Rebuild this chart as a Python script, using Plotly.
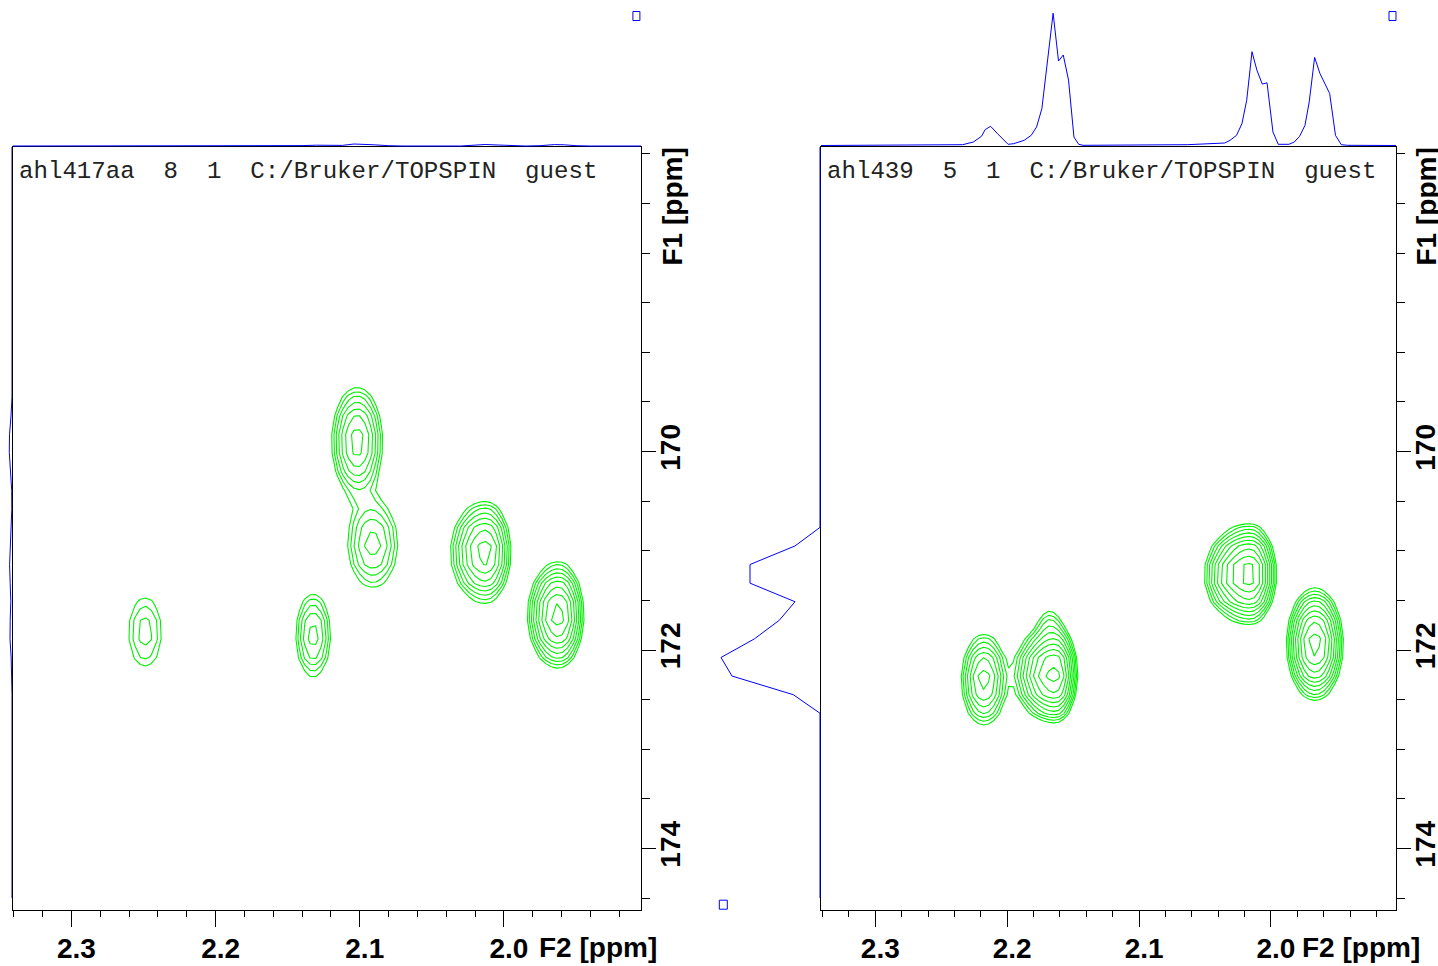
import numpy as np
import plotly.graph_objects as go

W, H = 1438, 966

# ---------------- axis extents / ticks ----------------
F2_LEFT_RANGE = [2.3409, 1.9049]
F2_RIGHT_RANGE = [2.3412, 1.9052]
F1_RANGE = [174.62, 166.93]

x_tick_vals = [2.3, 2.2, 2.1, 2.0]
x_tick_text = ["2.3", "2.2", "2.1", "2.0"]
x_minor_vals = [round(1.92 + 0.02 * i, 2) for i in range(22)]
y_tick_vals = [168, 170, 172, 174]
y_tick_text = ["", "170", "172", "174"]
y_minor_vals = [167.0 + 0.5 * i for i in range(16)]

titles = ["ahl417aa  8  1  C:/Bruker/TOPSPIN  guest",
          "ahl439  5  1  C:/Bruker/TOPSPIN  guest"]

# ---------------- 2D cross peaks ----------------
# left spectrum ahl417aa
L_f2 = [2.2489, 2.1323, 2.1018, 2.0910, 2.0129, 1.9623]
L_f1 = [171.82, 171.85, 169.90, 170.93, 171.013, 171.648]
L_wl = [0.0088, 0.0070, 0.0085, 0.0100, 0.0108, 0.0090]   # width, high-ppm side
L_wr = [0.0088, 0.0070, 0.0085, 0.0100, 0.0080, 0.0075]   # width, low-ppm side
L_wy = [0.272, 0.243, 0.265, 0.255, 0.231, 0.227]
L_amp = [2.32, 4.54, 8.91, 4.54, 12.47, 17.46]

# right spectrum ahl439
R_f2 = [2.2176, 2.1638, 2.1680, 2.0160, 2.0370, 1.9667]
R_f1 = [172.30, 172.24, 171.70, 171.235, 171.28, 171.94]
R_wl = [0.0083, 0.0126, 0.0060, 0.0135, 0.0060, 0.0086]
R_wr = [0.0083, 0.0069, 0.0060, 0.0081, 0.0060, 0.0086]
R_wy = [0.222, 0.199, 0.120, 0.203, 0.150, 0.227]
R_amp = [8.91, 24.4, 1.5, 24.4, 1.5, 24.4]

# ---------------- 1D projections ----------------
L_top_f2 = [2.3409, 2.150, 2.140, 2.130, 2.120, 2.112, 2.104, 2.098, 2.090, 2.080,
            2.070, 2.030, 2.022, 2.013, 2.004, 1.995, 1.985, 1.975, 1.965, 1.958,
            1.950, 1.940, 1.9049]
L_top_int = [0, 0, 0.4, 0.8, 0.3, 0.6, 2.0, 1.8, 1.2, 0.3,
             0, 0, 0.6, 1.5, 1.0, 0.2, 0, 0.3, 1.4, 1.2,
             0.3, 0, 0]

R_top_f2 = [2.3412, 2.2500, 2.2338, 2.2257, 2.2195, 2.2167, 2.2126, 2.2074, 2.1993,
            2.1952, 2.1871, 2.1818, 2.1777, 2.1737, 2.1696, 2.1652, 2.1611, 2.1575,
            2.1535, 2.1494, 2.1458, 2.1425, 2.0634, 2.0472, 2.0351, 2.0310, 2.0261,
            2.0220, 2.0184, 2.0144, 2.0107, 2.0066, 2.0030, 1.9985, 1.9945, 1.9864,
            1.9823, 1.9783, 1.9742, 1.9710, 1.9669, 1.9629, 1.9555, 1.9511, 1.9467,
            1.9418, 1.9052]
R_top_int = [0.5, 0.7, 1.3, 4.0, 9.7, 16.4, 19.7, 12.4, 1.7,
             2.3, 5.7, 10.7, 19.1, 37.5, 86.0, 132.8, 85.0, 91.0,
             65.9, 9.0, 1.7, 0.7, 1.3, 2.3, 3.0, 5.7, 10.7,
             22.4, 45.8, 94.3, 75.9, 61.9, 63.2, 14.0, 1.7, 1.7,
             4.0, 9.7, 20.7, 44.1, 88.6, 72.6, 52.5, 10.7, 1.3,
             0.7, 0.5]

L_side_f1 = [166.93, 169.45, 169.64, 169.83, 170.01, 170.20, 170.39, 170.58, 170.76,
             170.95, 171.14, 171.33, 171.51, 171.70, 171.89, 172.08, 172.26, 172.45, 174.50]
L_side_int = [0, 0, 1.0, 2.5, 2.7, 1.5, 0.3, 0.2, 0.8,
              2.0, 2.4, 1.8, 1.2, 1.8, 2.0, 0.8, 0.2, 0, 0]

R_side_f1 = [166.93, 170.577, 170.764, 170.951, 171.138, 171.326, 171.513, 171.700,
             171.888, 172.075, 172.262, 172.450, 172.637, 172.824, 174.50]
R_side_int = [0, 0, 0, 25, 70, 70, 25, 40.7, 65.7, 99, 88, 26.7, 0, 0, 0]

# ---------------- contour field from peak list ----------------
xg = np.arange(1.895, 2.352, 0.0038)
yg = 170.764 + 0.1873 * np.arange(-21, 22)
LEVEL_FACTOR = 1.4


def field(f2c, f1c, wl, wr, wy, amp):
    X, Y = np.meshgrid(xg, yg)
    Z = np.full(X.shape, 1e-3)
    for cx, cy, a, b, c, A in zip(f2c, f1c, wl, wr, wy, amp):
        sx = np.where(X >= cx, a, b)
        Z += A * np.exp(-0.5 * ((X - cx) / sx) ** 2 - 0.5 * ((Y - cy) / c) ** 2)
    return np.log(Z)


GREEN = "#00f000"
BLUE = "#0000ff"

fig = go.Figure()

for zf, xa, ya in [(field(L_f2, L_f1, L_wl, L_wr, L_wy, L_amp), "x", "y"),
                   (field(R_f2, R_f1, R_wl, R_wr, R_wy, R_amp), "x2", "y2")]:
    fig.add_trace(go.Contour(
        x=xg, y=yg, z=zf, xaxis=xa, yaxis=ya,
        contours=dict(coloring="lines", start=0.0, end=float(np.log(40)),
                      size=float(np.log(LEVEL_FACTOR)), showlabels=False),
        colorscale=[[0, GREEN], [1, GREEN]],
        line=dict(width=1.1, smoothing=0),
        showscale=False, hoverinfo="skip"))

# projections
fig.add_trace(go.Scatter(x=L_top_f2, y=L_top_int, xaxis="x", yaxis="y3", mode="lines",
                         line=dict(color=BLUE, width=1), hoverinfo="skip"))
fig.add_trace(go.Scatter(x=R_top_f2, y=R_top_int, xaxis="x2", yaxis="y4", mode="lines",
                         line=dict(color=BLUE, width=1), hoverinfo="skip"))
fig.add_trace(go.Scatter(x=L_side_int, y=L_side_f1, xaxis="x3", yaxis="y", mode="lines",
                         line=dict(color=BLUE, width=1), hoverinfo="skip"))
fig.add_trace(go.Scatter(x=R_side_int, y=R_side_f1, xaxis="x4", yaxis="y2", mode="lines",
                         line=dict(color=BLUE, width=1), hoverinfo="skip"))

LAB_FONT = dict(family="Liberation Sans, Arial, sans-serif", size=28, color="black", weight="bold")


def xaxis_cfg(dom, rng, anchor):
    return dict(domain=dom, range=rng, anchor=anchor, showline=True, mirror=True,
                linecolor="black", linewidth=1, ticks="outside", ticklen=16,
                tickcolor="black", tickwidth=1, tickmode="array",
                tickvals=x_tick_vals, ticktext=x_tick_text, tickfont=LAB_FONT,
                ticklabelshift=-5, ticklabelstandoff=-3, automargin=False,
                minor=dict(tickmode="array", tickvals=x_minor_vals, ticks="outside",
                           ticklen=6, tickcolor="black", tickwidth=1, showgrid=False),
                showgrid=False, zeroline=False, fixedrange=True)


def yaxis_cfg(dom, rng, anchor):
    return dict(domain=dom, range=rng, anchor=anchor, side="right", showline=True,
                mirror=True, linecolor="black", linewidth=1, ticks="outside",
                ticklen=14, tickcolor="black", tickwidth=1, tickmode="array",
                tickvals=y_tick_vals, ticktext=y_tick_text, tickfont=LAB_FONT,
                tickangle=-90, ticklabelstandoff=-10, automargin=False,
                minor=dict(tickmode="array", tickvals=y_minor_vals, ticks="outside",
                           ticklen=8, tickcolor="black", tickwidth=1, showgrid=False),
                showgrid=False, zeroline=False, fixedrange=True)


main_ydom = [(H - 910) / H, (H - 147) / H]
top_ydom = [(H - 147) / H, (H - 10) / H]

hidden = dict(visible=False, fixedrange=True, automargin=False)

fig.update_layout(
    width=W, height=H, autosize=False,
    margin=dict(l=0, r=0, t=0, b=0, pad=0),
    paper_bgcolor="white", plot_bgcolor="rgba(0,0,0,0)",
    showlegend=False,
    xaxis=xaxis_cfg([12.5 / W, 641 / W], F2_LEFT_RANGE, "y"),
    yaxis=yaxis_cfg(main_ydom, F1_RANGE, "x"),
    xaxis2=xaxis_cfg([821 / W, 1396 / W], F2_RIGHT_RANGE, "y2"),
    yaxis2=yaxis_cfg(main_ydom, F1_RANGE, "x2"),
    yaxis3=dict(domain=top_ydom, range=[-1, 136], anchor="x", **hidden),
    yaxis4=dict(domain=top_ydom, range=[-1, 136], anchor="x2", **hidden),
    xaxis3=dict(domain=[0, 12 / W], range=[12, 0], anchor="y", **hidden),
    xaxis4=dict(domain=[719 / W, 821 / W], range=[101, -1], anchor="y2", **hidden),
)

MONO = dict(family="Liberation Mono, Courier New, monospace", size=24.1, color="#222222")
for title, x0 in zip(titles, [17.0, 825.0]):
    fig.add_annotation(text=title.replace(" ", "\u00a0"), x=x0 / W, y=1 - 172 / H,
                       xref="paper", yref="paper", xanchor="left", yanchor="middle",
                       showarrow=False, font=MONO)

for xr in [659, 1422]:
    fig.add_annotation(text="F2 [ppm]", x=xr / W, y=1 - 947 / H, xref="paper", yref="paper",
                       xanchor="right", yanchor="middle", showarrow=False, font=LAB_FONT)
for xc in [671.5, 1425.5]:
    fig.add_annotation(text="F1 [ppm]", x=xc / W, y=1 - 207 / H, xref="paper", yref="paper",
                       xanchor="center", yanchor="middle", textangle=-90, showarrow=False,
                       font=LAB_FONT)

# small projection-corner markers
for cx, cy, w, h in [(636.4, 16, 7, 9), (1392.5, 16, 7, 9), (723.3, 904.7, 8, 9)]:
    fig.add_shape(type="rect", xref="paper", yref="paper",
                  x0=(cx - w / 2) / W, x1=(cx + w / 2) / W,
                  y0=1 - (cy + h / 2) / H, y1=1 - (cy - h / 2) / H,
                  line=dict(color=BLUE, width=1), fillcolor="rgba(0,0,0,0)")

fig.write_html(
    "out.html",
    config={"displayModeBar": False, "responsive": False},
    post_script="document.documentElement.style.margin='0';"
                "document.body.style.margin='0';document.body.style.padding='0';"
                "document.documentElement.style.overflow='hidden';"
                "document.body.style.overflow='hidden';")
